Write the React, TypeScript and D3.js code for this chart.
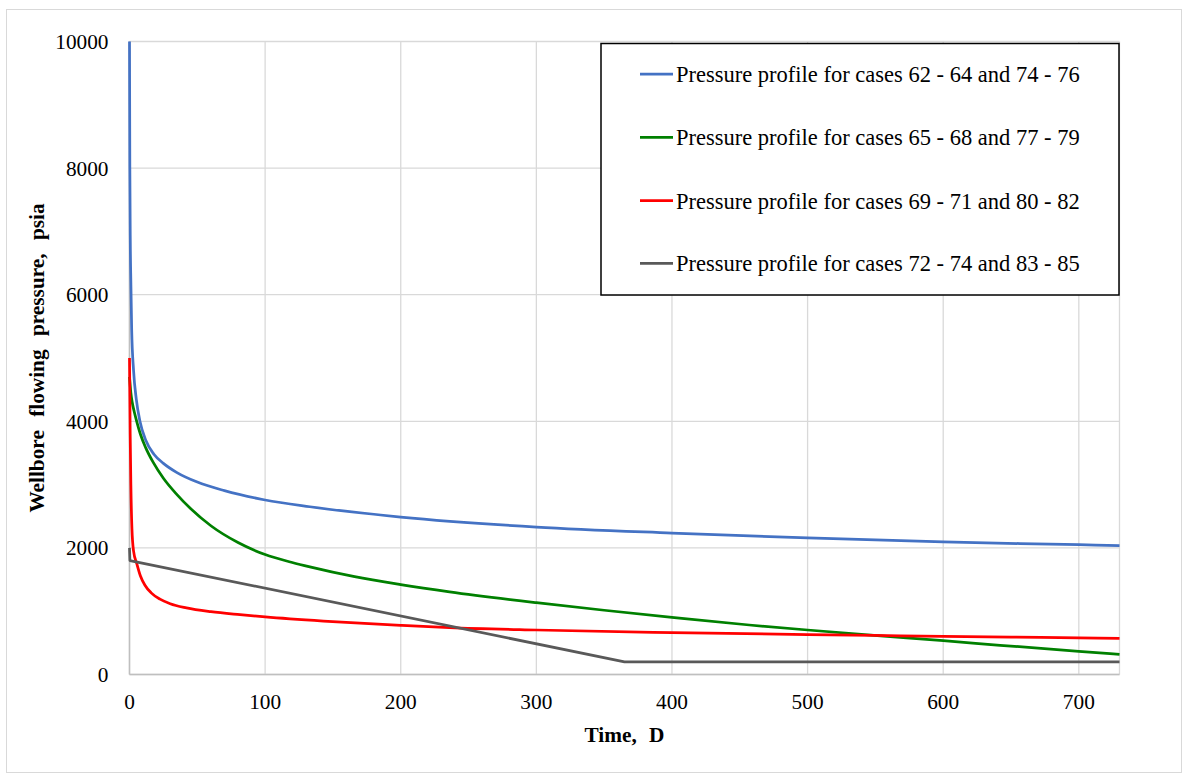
import React from "react";
import * as d3 from "d3";

const blueT = [0, 0.25, 0.6, 1, 1.6, 3, 5, 7.7, 12, 18, 25, 35, 50, 70, 100, 133, 200, 300, 400, 500, 600, 700, 730];
const blueP = [10000, 8000, 6800, 6200, 5450, 4800, 4350, 4000, 3700, 3480, 3336, 3190, 3040, 2905, 2757, 2650, 2488, 2330, 2235, 2157, 2094, 2050, 2035];

const greenT = [0, 1, 2, 3.5, 5.3, 8, 12, 17.5, 25, 35, 45, 60, 80, 100, 120, 133, 166, 200, 236, 300, 350, 400, 457, 500, 549, 600, 642, 700, 730];
const greenP = [4700, 4450, 4300, 4150, 4000, 3800, 3580, 3350, 3100, 2842, 2622, 2350, 2085, 1895, 1770, 1700, 1545, 1420, 1305, 1134, 1015, 903, 782, 703, 619, 535, 462, 365, 318];

const redT = [0, 0.5, 1, 1.8, 3, 5.3, 8, 11.4, 16, 22.5, 30, 42, 60, 81.5, 100, 143, 200, 236, 300, 400, 500, 549, 600, 650, 700, 730];
const redP = [5000, 3800, 3000, 2300, 1950, 1757, 1560, 1410, 1290, 1190, 1118, 1052, 992, 945, 910, 845, 778, 742, 703, 661, 630, 617, 603, 592, 580, 572];

const greyT = [0, 0.3, 365, 730];
const greyP = [2000, 1800, 200, 200];

const xTicks = [0, 100, 200, 300, 400, 500, 600, 700];
const yTicks = [0, 2000, 4000, 6000, 8000, 10000];

const seriesNames = [
  "Pressure profile for cases 62 - 64 and 74 - 76",
  "Pressure profile for cases 65 - 68 and 77 - 79",
  "Pressure profile for cases 69 - 71 and 80 - 82",
  "Pressure profile for cases 72 - 74 and 83 - 85",
];
const seriesColors = ["#4472C4", "#008000", "#FF0000", "#595959"];

const FONT = "'Liberation Serif', 'Times New Roman', serif";

export default function App() {
  const W = 1184, H = 776;
  const left = 129.5, right = 1119.5, top = 41.5, bottom = 674.5;
  const x = d3.scaleLinear().domain([0, 730]).range([left, right]);
  const y = d3.scaleLinear().domain([0, 10000]).range([bottom, top]);

  const series = [
    { t: blueT, p: blueP },
    { t: greenT, p: greenP },
    { t: redT, p: redP },
    { t: greyT, p: greyP },
  ];
  const lineGen = d3
    .line<[number, number]>()
    .x((d) => x(d[0]))
    .y((d) => y(d[1]))
    .curve(d3.curveMonotoneX);
  const straight = d3
    .line<[number, number]>()
    .x((d) => x(d[0]))
    .y((d) => y(d[1]));

  const legendX = 601, legendY = 43.5, legendW = 518, legendH = 251.5;
  const legendRows = [74, 137.3, 200.7, 263.3];
  const ts = { fontFamily: FONT };

  return (
    <svg
      width={W}
      height={H}
      style={{ position: "absolute", left: 0, top: 0, background: "#fff", fontFamily: FONT }}
    >
      <rect x={6.5} y={9.5} width={1175} height={763} fill="#fff" stroke="#d9d9d9" strokeWidth={1} />
      {yTicks.map((v) => (
        <line key={"gy" + v} x1={left} x2={right} y1={y(v)} y2={y(v)} stroke="#d9d9d9" strokeWidth={1.3} />
      ))}
      {xTicks.concat([730]).map((v) => (
        <line key={"gx" + v} x1={x(v)} x2={x(v)} y1={top} y2={bottom} stroke="#d9d9d9" strokeWidth={1.3} />
      ))}
      <line x1={left} x2={right} y1={bottom} y2={bottom} stroke="#bfbfbf" strokeWidth={1.5} />
      <line x1={left} x2={left} y1={top} y2={bottom} stroke="#bfbfbf" strokeWidth={1.5} />
      {yTicks.map((v) => (
        <text key={"ty" + v} x={108.5} y={y(v)} dy="0.35em" textAnchor="end" fontSize={21.3} fill="#000" style={ts}>
          {v}
        </text>
      ))}
      {xTicks.map((v) => (
        <text key={"tx" + v} x={x(v)} y={709} textAnchor="middle" fontSize={21.3} fill="#000" style={ts}>
          {v}
        </text>
      ))}
      {series.map((s, i) => {
        const pts: [number, number][] = s.t.map((t, j) => [t, s.p[j]]);
        const d = i === 3 ? straight(pts) : lineGen(pts);
        return (
          <path key={"s" + i} d={d || ""} fill="none" stroke={seriesColors[i]} strokeWidth={2.75} strokeLinejoin="round" />
        );
      })}
      <text x={(left + right) / 2} y={742} textAnchor="middle" fontSize={21.3} fontWeight="bold" wordSpacing="7px" style={ts}>
        Time, D
      </text>
      <text
        transform={`translate(44, ${(top + bottom) / 2}) rotate(-90)`}
        textAnchor="middle"
        fontSize={21.3}
        fontWeight="bold"
        wordSpacing="8px"
        style={ts}
      >
        Wellbore flowing pressure, psia
      </text>
      <rect x={legendX} y={legendY} width={legendW} height={legendH} fill="#fff" stroke="#000" strokeWidth={1.5} />
      {seriesNames.map((name, i) => (
        <g key={"lg" + i}>
          <line x1={640} x2={673} y1={legendRows[i]} y2={legendRows[i]} stroke={seriesColors[i]} strokeWidth={2.75} />
          <text x={676} y={legendRows[i]} dy="0.35em" fontSize={22.5} fill="#000" style={ts}>
            {name}
          </text>
        </g>
      ))}
    </svg>
  );
}
